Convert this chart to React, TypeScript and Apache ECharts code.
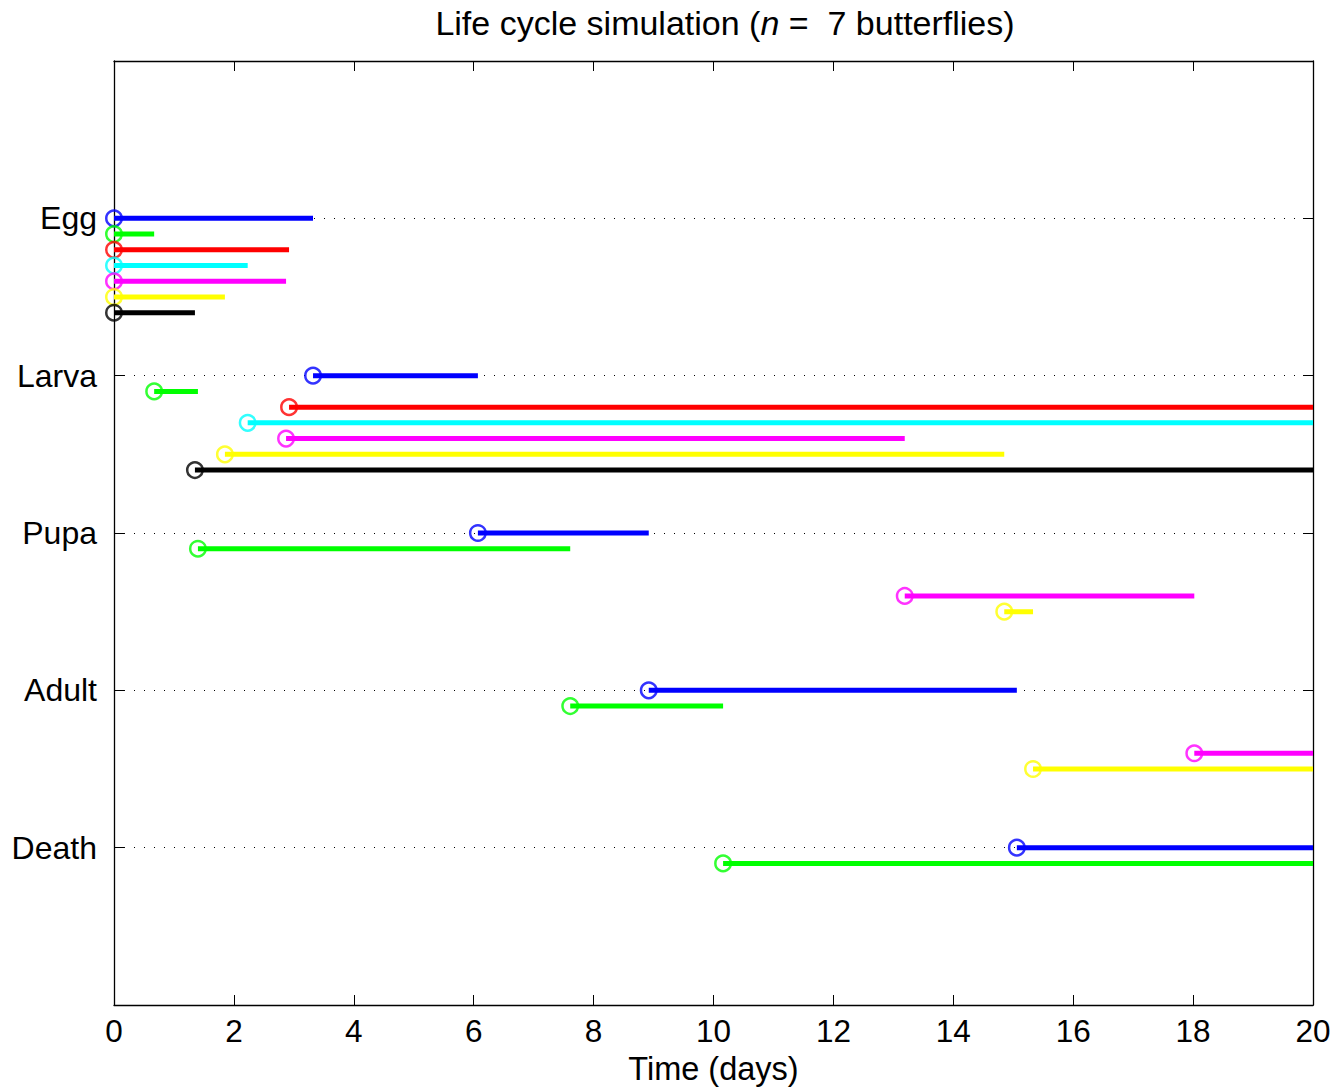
import React, { useEffect, useRef } from "react";
import * as echarts from "echarts";

const stages = ["Egg", "Larva", "Pupa", "Adult", "Death"];
const colors = ["#0000ff", "#00ff00", "#ff0000", "#00ffff", "#ff00ff", "#ffff00", "#000000"];
const simEnd = 20;
const xTicks = [0, 2, 4, 6, 8, 10, 12, 14, 16, 18, 20];
// time at which each butterfly enters each stage (Egg at 0)
const blueT = [0, 3.32, 6.07, 8.92, 15.06];
const greenT = [0, 0.67, 1.4, 7.61, 10.16];
const redT = [0, 2.92];
const cyanT = [0, 2.23];
const magentaT = [0, 2.87, 13.19, 18.02];
const yellowT = [0, 1.85, 14.85, 15.33];
const blackT = [0, 1.35];
const butterflies = [blueT, greenT, redT, cyanT, magentaT, yellowT, blackT];

const FONT = "'Liberation Sans', Arial, sans-serif";

export default function App() {
  const ref = useRef<HTMLDivElement>(null);
  useEffect(() => {
    const chart = echarts.init(ref.current!, null, { renderer: "svg" });
    const series: any[] = [];
    butterflies.forEach((times, i) => {
      const lineData: any[] = [];
      const pts: any[] = [];
      times.forEach((t, s) => {
        const y = s + 1 + 0.1 * i;
        const end = s + 1 < times.length ? times[s + 1] : simEnd;
        lineData.push([t, y], [end, y], ["-", "-"]);
        pts.push([t, y]);
      });
      series.push({
        type: "line",
        data: lineData,
        showSymbol: false,
        connectNulls: false,
        lineStyle: { color: colors[i], width: 5, cap: "butt" },
        itemStyle: { color: colors[i] },
        silent: true,
        z: 3,
      });
      series.push({
        type: "scatter",
        data: pts,
        symbol: "circle",
        symbolSize: 15.5,
        itemStyle: { color: "none", borderColor: colors[i], borderWidth: 2.5 },
        silent: true,
        z: 4,
      });
    });
    const tickStyle = { color: "#000", width: 1 };
    const lineSt = { onZero: false, show: true, lineStyle: { color: "#000", width: 1.3 } };
    chart.setOption({
      animation: false,
      backgroundColor: "#fff",
      textStyle: { fontFamily: FONT },
      title: {
        text: "{a|Life cycle simulation (}{i|n}{a| =  7 butterflies)}",
        left: 720,
        top: 1,
        textAlign: "center",
        textStyle: {
          fontWeight: "normal",
          rich: {
            a: { fontFamily: FONT, fontSize: 34, color: "#000", fontWeight: "normal" },
            i: { fontFamily: FONT, fontSize: 34, color: "#000", fontStyle: "italic", fontWeight: "normal" },
          },
        },
      },
      grid: { left: 114, right: 24, top: 61, bottom: 81, containLabel: false },
      xAxis: [
        {
          type: "value",
          min: 0,
          max: 20,
          interval: 2,
          position: "bottom",
          name: "Time (days)",
          nameLocation: "middle",
          nameGap: 47,
          nameTextStyle: { fontFamily: FONT, fontSize: 32.5, color: "#000" },
          axisLine: lineSt,
          axisTick: { show: true, inside: true, length: 10, lineStyle: tickStyle },
          axisLabel: {
            fontFamily: FONT,
            fontSize: 31.5,
            color: "#000",
            margin: 10,
            formatter: (v: number) => (xTicks.includes(v) ? String(v) : ""),
          },
          splitLine: { show: false },
        },
        {
          type: "value",
          min: 0,
          max: 20,
          interval: 2,
          position: "top",
          axisLine: lineSt,
          axisTick: { show: true, inside: true, length: 10, lineStyle: tickStyle },
          axisLabel: { show: false },
          splitLine: { show: false },
        },
      ],
      yAxis: [
        {
          type: "value",
          min: 0,
          max: 6,
          interval: 1,
          inverse: true,
          position: "left",
          axisLine: lineSt,
          axisTick: { show: true, inside: true, length: 10, lineStyle: tickStyle },
          axisLabel: {
            fontFamily: FONT,
            fontSize: 32,
            color: "#000",
            margin: 17,
            formatter: (v: number) => stages[v - 1] ?? "",
          },
          splitLine: {
            show: true,
            showMinLine: false,
            showMaxLine: false,
            lineStyle: { color: "#000", width: 1, type: [1, 9] },
          },
        },
        {
          type: "value",
          min: 0,
          max: 6,
          interval: 1,
          inverse: true,
          position: "right",
          axisLine: lineSt,
          axisTick: { show: true, inside: true, length: 10, lineStyle: tickStyle },
          axisLabel: { show: false },
          splitLine: { show: false },
        },
      ],
      series,
    });
    return () => chart.dispose();
  }, []);
  return (
    <div
      ref={ref}
      style={{ position: "fixed", left: 0, top: 0, width: 1337, height: 1090, background: "#fff" }}
    />
  );
}
